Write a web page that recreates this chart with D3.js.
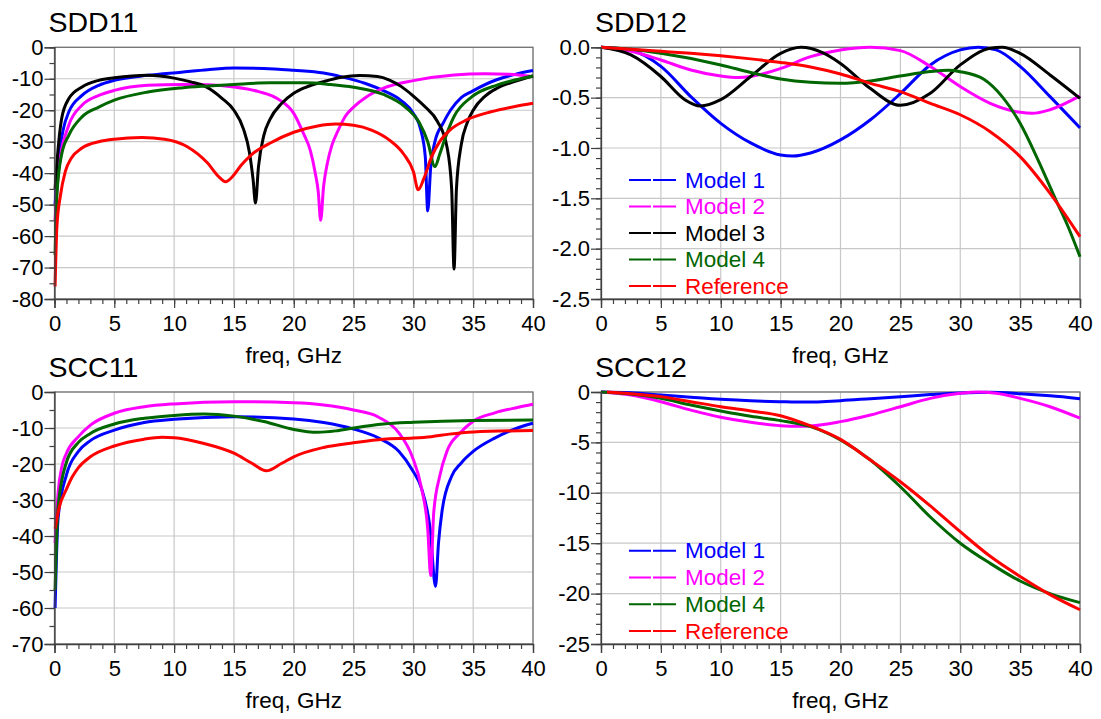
<!DOCTYPE html>
<html><head><meta charset="utf-8">
<script src="https://cdn.jsdelivr.net/npm/d3@7"></script>
<style>
html,body{margin:0;padding:0;background:#fff;}
text{font-family:"Liberation Sans",Arial,sans-serif;}
</style></head>
<body><svg id="chart" width="1101" height="719"></svg>
<script>
// ---------- data ----------
const freqTicks = [0,5,10,15,20,25,30,35,40];
const freqMinor = d3.range(0,41,1);
const sdd11Ticks = [0,-10,-20,-30,-40,-50,-60,-70,-80];
const sdd12Ticks = [0,-0.5,-1.0,-1.5,-2.0,-2.5];
const scc11Ticks = [0,-10,-20,-30,-40,-50,-60,-70];
const scc12Ticks = [0,-5,-10,-15,-20,-25];
const seriesNames = ["Model 1","Model 2","Model 3","Model 4","Reference"];

// SDD11 [freq GHz, dB]
const sdd11Model1 = [[0.05,-50],[0.33,-36],[0.75,-25.8],[1.2,-20.5],[2.3,-15.3],[3.7,-12.1],[5,-10.5],[7.8,-8.9],[10.6,-7.9],[12.8,-7.1],[15,-6.6],[17.5,-6.7],[20,-7.3],[22.5,-8.2],[24,-9.4],[26,-11.5],[27.5,-13.8],[29,-17],[30,-21],[30.6,-26],[31,-35],[31.2,-52],[31.45,-38],[31.8,-30],[32.5,-24],[33.1,-20],[34,-16],[34.9,-14],[36.9,-10.4],[38.5,-8.6],[40,-7.4]];
const sdd11Model2 = [[0.05,-55],[0.33,-39.5],[1.2,-24.7],[2.3,-18.4],[3.7,-15.3],[5,-13.7],[7.8,-12.1],[10.6,-11.8],[12.8,-11.9],[15,-12.6],[17,-14],[18.8,-16.7],[20,-21],[20.8,-27.3],[21.4,-33],[21.8,-40],[22.05,-46],[22.25,-55],[22.5,-44],[22.8,-37],[23.2,-31],[23.7,-26.5],[24.3,-22],[25,-19],[26.1,-15.7],[27.5,-13],[30,-10.6],[33.4,-8.8],[36,-8.4],[38,-8.6],[40,-9.3]];
const sdd11Model3 = [[0.05,-45],[0.33,-31],[0.6,-22.6],[1.2,-16.3],[2.3,-12.6],[3.7,-10.5],[5,-9.7],[7.8,-8.9],[10,-9.8],[11.4,-11],[12.6,-12.4],[14,-16.2],[15,-20],[15.8,-26],[16.3,-33.5],[16.6,-42],[16.8,-49.5],[17.05,-38],[17.5,-28],[18,-23],[19,-17.8],[20,-14.6],[21,-12.7],[22.5,-10.9],[24,-9.5],[25.5,-9],[27,-9.3],[28,-10.4],[29,-12.5],[30,-15.5],[31,-19],[32,-23.5],[32.8,-31.5],[33.2,-45],[33.4,-70.5],[33.6,-45],[34,-31],[34.5,-24],[35,-20],[36,-15.5],[37,-13],[38.5,-10.8],[40,-9.1]];
const sdd11Model4 = [[0.05,-66],[0.2,-47],[0.6,-34],[1.2,-27.9],[2.3,-22.1],[3.7,-19],[5,-16.8],[7.8,-14.2],[10.6,-12.9],[12.8,-12.3],[15,-11.8],[18,-11.3],[21,-11.3],[23,-11.8],[25,-12.7],[27.5,-15],[29.3,-18.9],[30.5,-24],[31.2,-30],[31.8,-37.9],[32.2,-34],[32.6,-29.5],[33.4,-22],[34.9,-15.7],[37,-12],[38.5,-10.4],[40,-9.1]];
const sdd11Reference = [[0.05,-76],[0.2,-57],[0.5,-47],[0.9,-39.5],[1.4,-35.3],[2.3,-32],[3.7,-30],[5,-29.2],[7.3,-28.7],[9.2,-29.2],[11.1,-31.6],[12.8,-36.8],[13.7,-41],[14.3,-42.7],[14.9,-41],[15.6,-37.5],[16.5,-34],[18,-30.5],[20,-27],[22,-25],[23.5,-24.4],[25,-24.8],[26.5,-26.3],[28,-29.5],[29.2,-34],[30,-39.5],[30.4,-45.3],[30.9,-41.5],[31.5,-35],[32.2,-30],[33,-26.5],[34.5,-23],[36.5,-20.5],[38.5,-18.8],[40,-17.8]];

// SDD12 [freq GHz, dB]
const sdd12Model1 = [[0,0],[2.5,-0.03],[5,-0.19],[7.5,-0.49],[10,-0.755],[12.5,-0.95],[15,-1.07],[16,-1.08],[17.5,-1.05],[20,-0.92],[22.5,-0.72],[25,-0.46],[27.5,-0.175],[30,-0.026],[31.5,0],[33,-0.026],[35,-0.19],[37.5,-0.49],[40,-0.8]];
const sdd12Model2 = [[0,0],[2.5,-0.04],[5,-0.126],[7.5,-0.225],[10,-0.285],[11.5,-0.3],[12.5,-0.29],[15,-0.21],[17.5,-0.093],[20,-0.026],[22.5,0],[25,-0.033],[27.5,-0.19],[30,-0.39],[32.5,-0.556],[35,-0.646],[36,-0.656],[37.5,-0.62],[40,-0.483]];
const sdd12Model3 = [[0,0],[2.5,-0.076],[5,-0.29],[7,-0.52],[8.3,-0.583],[10,-0.52],[12.5,-0.29],[15,-0.06],[16.7,0],[18.5,-0.053],[20,-0.16],[22.5,-0.41],[25,-0.576],[27.5,-0.457],[30,-0.175],[32.5,-0.01],[33.5,0],[35,-0.06],[37.5,-0.275],[40,-0.507]];
const sdd12Model4 = [[0,0],[2.5,-0.02],[5,-0.06],[10,-0.175],[12.5,-0.25],[15,-0.315],[17.5,-0.348],[20,-0.358],[22.5,-0.335],[25,-0.285],[27.5,-0.24],[29,-0.228],[30,-0.242],[32,-0.32],[33.5,-0.49],[35,-0.755],[36.5,-1.12],[38,-1.52],[39,-1.78],[40,-2.08]];
const sdd12Reference = [[0,0],[2.5,-0.02],[5,-0.04],[7.5,-0.06],[10,-0.085],[12.5,-0.115],[15,-0.15],[17.5,-0.195],[20,-0.265],[22.5,-0.358],[25,-0.44],[27.5,-0.556],[30,-0.67],[32.5,-0.838],[35,-1.086],[37.5,-1.45],[40,-1.88]];

// SCC11 [freq GHz, dB]
const scc11Model1 = [[0.05,-60],[0.3,-35],[1,-23],[2,-16.5],[3,-13.5],[5,-10.6],[7.5,-8.5],[10,-7.6],[15,-6.85],[20,-7.5],[22.5,-8.5],[25,-10.3],[27.1,-12.8],[28.8,-16.5],[29.9,-21.6],[30.7,-27],[31.4,-38],[31.85,-54],[32.1,-42],[32.4,-33],[33.2,-23.4],[34,-19.7],[35,-16.5],[36.8,-12.8],[38.7,-10],[40,-8.7]];
const scc11Model2 = [[0.05,-42],[0.3,-28],[0.6,-21],[1,-17],[2,-12.4],[3,-9.2],[5,-5.9],[7.5,-4.1],[10,-3.3],[15,-2.7],[20,-3],[22.5,-3.6],[25,-5],[27.1,-7],[28.8,-11.4],[29.9,-17.9],[30.7,-27],[31.2,-38],[31.45,-51],[31.7,-33.6],[32.2,-23.4],[32.8,-16.5],[33.9,-11.4],[35,-8.1],[36.8,-5.8],[38.7,-4.3],[40,-3.4]];
const scc11Model4 = [[0.05,-55],[0.3,-32],[1,-19.5],[2,-14],[3,-11.5],[5,-8.9],[7.5,-7.3],[10,-6.5],[12.5,-6.1],[15,-6.7],[17.5,-8.2],[20,-10.4],[22,-11.2],[23.5,-10.8],[25,-10],[27.5,-8.9],[30,-8.4],[35,-7.9],[40,-7.8]];
const scc11Reference = [[0.05,-38],[0.4,-32],[1,-27],[1.5,-23.5],[2,-21],[3,-18],[5,-15],[7.5,-13.1],[9,-12.6],[10,-12.7],[12.5,-14.3],[15,-17],[16.5,-19.8],[17.7,-21.9],[19,-19.8],[20,-18],[22.5,-15.4],[25,-14.1],[27.5,-13.1],[30,-12.8],[31.5,-12.4],[33,-11.7],[35,-11.1],[40,-10.7]];

// SCC12 [freq GHz, dB]
const scc12Model1 = [[0,0],[2.5,-0.08],[5,-0.3],[7.5,-0.52],[10,-0.73],[12.5,-0.88],[15,-0.96],[17,-1.0],[20,-0.86],[22.5,-0.66],[25,-0.46],[27.5,-0.26],[30,-0.1],[32.5,-0.03],[35,-0.17],[37.5,-0.38],[40,-0.66]];
const scc12Model2 = [[0,0],[2.5,-0.3],[5,-0.96],[7.5,-1.8],[10,-2.5],[12.5,-3.0],[15,-3.34],[16.5,-3.4],[17.5,-3.37],[20,-2.94],[22.5,-2.28],[25,-1.46],[27.5,-0.63],[30,-0.13],[31.5,0],[33,-0.13],[35,-0.63],[37.5,-1.46],[40,-2.6]];
const scc12Model4 = [[0,0],[2.5,-0.2],[5,-0.63],[7.5,-1.29],[10,-1.88],[12.5,-2.41],[15,-2.84],[17.5,-3.44],[20,-4.76],[22.5,-6.75],[25,-9.4],[27.5,-12.4],[30,-15.0],[32.5,-17.0],[35,-18.75],[37.5,-20.0],[40,-20.9]];
const scc12Reference = [[0.5,0],[2.5,-0.17],[5,-0.46],[7.5,-0.96],[10,-1.46],[12.5,-1.88],[15,-2.35],[17.5,-3.37],[20,-4.7],[22.5,-6.75],[25,-8.9],[27.5,-11.3],[30,-13.86],[32.5,-16.3],[35,-18.3],[37.5,-20.1],[40,-21.6]];

// ---------- styles / layout ----------
const colors = {"Model 1":"#0000ff","Model 2":"#ff00ff","Model 3":"#000000","Model 4":"#006600","Reference":"#ff0000"};
const FONT = '"Liberation Sans", Arial, sans-serif';

const panels = [
  {title:"SDD11", x0:54.5, x1:533, y0:47.3, y1:299, dom:[-80,0], ticks:sdd11Ticks, minor:5, fmt:d=>String(d),
   series:[["Model 1",sdd11Model1],["Model 2",sdd11Model2],["Model 3",sdd11Model3],["Model 4",sdd11Model4],["Reference",sdd11Reference]], legend:null},
  {title:"SDD12", x0:601, x1:1080, y0:47.3, y1:299, dom:[-2.5,0], ticks:sdd12Ticks, minor:0.1, fmt:d=>d.toFixed(1),
   series:[["Model 1",sdd12Model1],["Model 2",sdd12Model2],["Model 3",sdd12Model3],["Model 4",sdd12Model4],["Reference",sdd12Reference]],
   legend:{x:629, y:180, step:26.5, names:["Model 1","Model 2","Model 3","Model 4","Reference"]}},
  {title:"SCC11", x0:54.5, x1:533, y0:392, y1:644, dom:[-70,0], ticks:scc11Ticks, minor:5, fmt:d=>String(d),
   series:[["Model 1",scc11Model1],["Model 2",scc11Model2],["Model 4",scc11Model4],["Reference",scc11Reference]], legend:null},
  {title:"SCC12", x0:601, x1:1080, y0:392, y1:644, dom:[-25,0], ticks:scc12Ticks, minor:1, fmt:d=>String(d),
   series:[["Model 1",scc12Model1],["Model 2",scc12Model2],["Model 4",scc12Model4],["Reference",scc12Reference]],
   legend:{x:629, y:550.7, step:26.8, names:["Model 1","Model 2","Model 4","Reference"]}}
];

const svg = d3.select("#chart");

panels.forEach(p => {
  const x = d3.scaleLinear().domain([0,40]).range([p.x0,p.x1]);
  const y = d3.scaleLinear().domain(p.dom).range([p.y1,p.y0]);
  const g = svg.append("g");
  const minorY = d3.range(0, Math.round((p.dom[1]-p.dom[0])/p.minor)+1).map(i => +(p.dom[0] + i*p.minor).toFixed(4));

  // grid
  g.append("g").selectAll("line").data(freqTicks).join("line")
    .attr("x1",d=>x(d)).attr("x2",d=>x(d)).attr("y1",p.y0).attr("y2",p.y1)
    .attr("stroke","#c8c8c8").attr("stroke-width",1.2);
  g.append("g").selectAll("line").data(p.ticks).join("line")
    .attr("x1",p.x0).attr("x2",p.x1).attr("y1",d=>y(d)).attr("y2",d=>y(d))
    .attr("stroke","#c8c8c8").attr("stroke-width",1.2);

  // frame (top/right)
  g.append("rect").attr("x",p.x0).attr("y",p.y0).attr("width",p.x1-p.x0).attr("height",p.y1-p.y0)
    .attr("fill","none").attr("stroke","#6e6e6e").attr("stroke-width",1.2);

  // curves
  const line = d3.line().x(d=>x(d[0])).y(d=>y(d[1])).curve(d3.curveMonotoneX);
  p.series.forEach(([name,data]) => {
    g.append("path").datum(data).attr("d",line)
      .attr("fill","none").attr("stroke",colors[name]).attr("stroke-width",3)
      .attr("stroke-linejoin","round");
  });

  // axes
  const xMinorAxis = d3.axisBottom(x).tickValues(freqMinor).tickSize(5).tickFormat("");
  const gxm = g.append("g").attr("transform",`translate(0,${p.y1})`).call(xMinorAxis);
  gxm.select(".domain").remove();
  const xAxis = d3.axisBottom(x).tickValues(freqTicks).tickSize(9).tickPadding(7).tickFormat(d=>String(d));
  const gx = g.append("g").attr("transform",`translate(0,${p.y1})`).call(xAxis);

  const yMinorAxis = d3.axisLeft(y).tickValues(minorY).tickSize(5).tickFormat("");
  const gym = g.append("g").attr("transform",`translate(${p.x0},0)`).call(yMinorAxis);
  gym.select(".domain").remove();
  const yAxis = d3.axisLeft(y).tickValues(p.ticks).tickSize(10).tickPadding(1).tickFormat(p.fmt);
  const gy = g.append("g").attr("transform",`translate(${p.x0},0)`).call(yAxis);

  [gx,gy,gxm,gym].forEach(a => {
    a.selectAll("line").attr("stroke","#404040").attr("stroke-width",1.2);
    a.select(".domain").attr("stroke","#404040").attr("stroke-width",1.3);
    a.selectAll("text").attr("fill","#000").style("font-family",FONT).style("font-size","22px");
  });

  // title
  g.append("text").attr("x",p.x0-6).attr("y",p.y0-15.5).text(p.title)
    .style("font-family",FONT).style("font-size","28.5px").attr("fill","#000");
  // x label
  g.append("text").attr("x",(p.x0+p.x1)/2).attr("y",p.y1+64).attr("text-anchor","middle")
    .text("freq, GHz").style("font-family",FONT).style("font-size","22.5px").attr("fill","#000");

  // legend
  if (p.legend) {
    const L = p.legend;
    L.names.forEach((n,i) => {
      const yy = L.y + i*L.step;
      g.append("line").attr("x1",L.x).attr("x2",L.x+47).attr("y1",yy).attr("y2",yy)
        .attr("stroke",colors[n]).attr("stroke-width",2).attr("stroke-dasharray","22,2,23");
      g.append("text").attr("x",L.x+56).attr("y",yy+7.5).text(n)
        .style("font-family",FONT).style("font-size","22.5px").attr("fill",colors[n]);
    });
  }
});
</script></body></html>
